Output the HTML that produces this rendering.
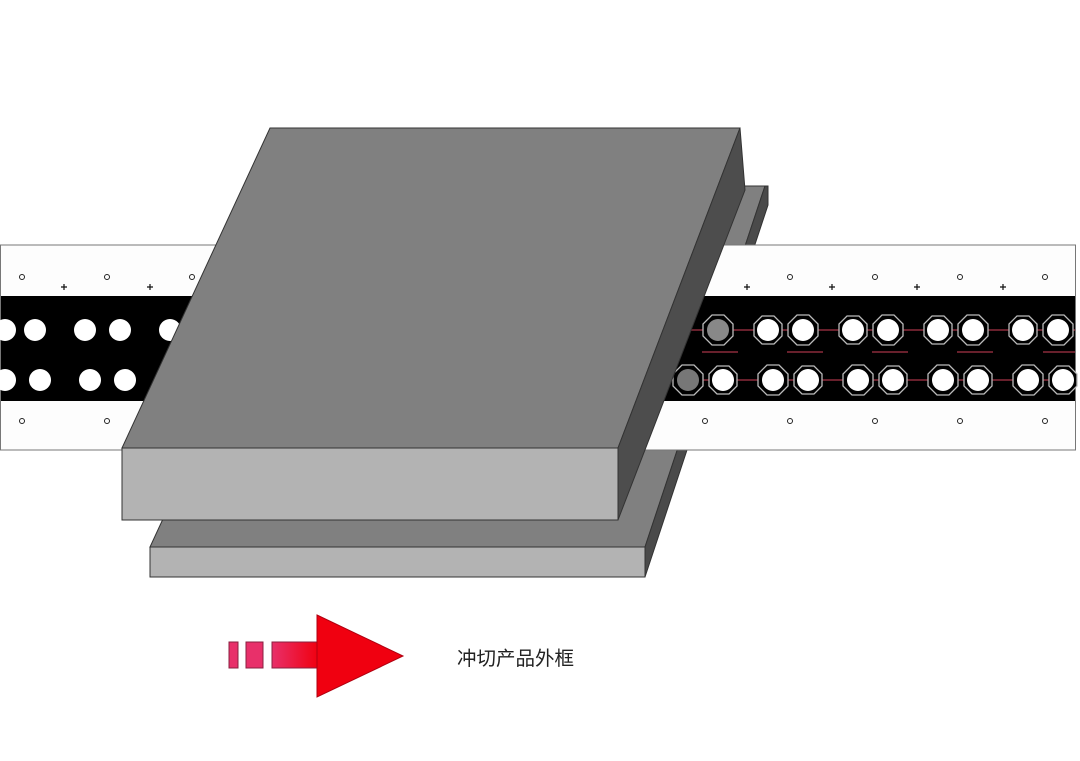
<!DOCTYPE html>
<html><head><meta charset="utf-8"><style>body{margin:0;background:#fff}svg{display:block}</style></head><body>
<svg width="1080" height="761" viewBox="0 0 1080 761" xmlns="http://www.w3.org/2000/svg">
<defs><linearGradient id="g" x1="0" x2="1"><stop offset="0" stop-color="#e8306a"/><stop offset="1" stop-color="#f00010"/></linearGradient></defs>
<g stroke="#333" stroke-width="1">
<polygon points="150,547 645,547 765,186 317,186" fill="#808080"/>
<polygon points="645,577 645,547 765,186 768,186 768,205" fill="#4a4a4a"/>
<rect x="150" y="547" width="495" height="30" fill="#b3b3b3"/>
</g>
<rect x="0.5" y="245" width="1075" height="205" fill="#fdfdfd" stroke="#777"/>
<rect x="1" y="296" width="1074" height="105" fill="#000"/>
<g fill="none" stroke="#222" stroke-width="1">
<circle cx="22" cy="277" r="2.5"/><circle cx="107" cy="277" r="2.5"/><circle cx="192" cy="277" r="2.5"/>
<circle cx="790" cy="277" r="2.5"/><circle cx="875" cy="277" r="2.5"/><circle cx="960" cy="277" r="2.5"/><circle cx="1045" cy="277" r="2.5"/>
<circle cx="22" cy="421" r="2.5"/><circle cx="107" cy="421" r="2.5"/><circle cx="705" cy="421" r="2.5"/><circle cx="790" cy="421" r="2.5"/><circle cx="875" cy="421" r="2.5"/><circle cx="960" cy="421" r="2.5"/><circle cx="1045" cy="421" r="2.5"/>
</g>
<g stroke="#111" stroke-width="1.2">
<path d="M61 287h6M64 284v6M147 287h6M150 284v6M744 287h6M747 284v6M829 287h6M832 284v6M914 287h6M917 284v6M1000 287h6M1003 284v6"/>
</g>
<g fill="#fff">
<circle cx="5" cy="330" r="11"/><circle cx="35" cy="330" r="11"/><circle cx="85" cy="330" r="11"/><circle cx="120" cy="330" r="11"/><circle cx="170" cy="330" r="11"/>
<circle cx="5" cy="380" r="11"/><circle cx="40" cy="380" r="11"/><circle cx="90" cy="380" r="11"/><circle cx="125" cy="380" r="11"/>
</g>
<g stroke="#8a2a3a" stroke-width="1.5">
<path d="M680 330H1075M670 380H1075"/>
<path d="M702 352h36M787 352h36M872 352h36M957 352h36M1043 352h32"/>
</g>
<g stroke="#bbb" stroke-width="1.3" fill="#000">
<polygon transform="translate(718,330)" points="-6,-15 6,-15 15,-6 15,6 6,15 -6,15 -15,6 -15,-6"/>
<polygon transform="translate(768,330)" points="-6,-14 6,-14 14,-6 14,6 6,14 -6,14 -14,6 -14,-6"/>
<polygon transform="translate(803,330)" points="-6,-15 6,-15 15,-6 15,6 6,15 -6,15 -15,6 -15,-6"/>
<polygon transform="translate(853,330)" points="-6,-14 6,-14 14,-6 14,6 6,14 -6,14 -14,6 -14,-6"/>
<polygon transform="translate(888,330)" points="-6,-15 6,-15 15,-6 15,6 6,15 -6,15 -15,6 -15,-6"/>
<polygon transform="translate(938,330)" points="-6,-14 6,-14 14,-6 14,6 6,14 -6,14 -14,6 -14,-6"/>
<polygon transform="translate(973,330)" points="-6,-15 6,-15 15,-6 15,6 6,15 -6,15 -15,6 -15,-6"/>
<polygon transform="translate(1023,330)" points="-6,-14 6,-14 14,-6 14,6 6,14 -6,14 -14,6 -14,-6"/>
<polygon transform="translate(1058,330)" points="-6,-15 6,-15 15,-6 15,6 6,15 -6,15 -15,6 -15,-6"/>
<polygon transform="translate(688,380)" points="-6,-15 6,-15 15,-6 15,6 6,15 -6,15 -15,6 -15,-6"/>
<polygon transform="translate(723,380)" points="-6,-14 6,-14 14,-6 14,6 6,14 -6,14 -14,6 -14,-6"/>
<polygon transform="translate(773,380)" points="-6,-15 6,-15 15,-6 15,6 6,15 -6,15 -15,6 -15,-6"/>
<polygon transform="translate(808,380)" points="-6,-14 6,-14 14,-6 14,6 6,14 -6,14 -14,6 -14,-6"/>
<polygon transform="translate(858,380)" points="-6,-15 6,-15 15,-6 15,6 6,15 -6,15 -15,6 -15,-6"/>
<polygon transform="translate(893,380)" points="-6,-14 6,-14 14,-6 14,6 6,14 -6,14 -14,6 -14,-6"/>
<polygon transform="translate(943,380)" points="-6,-15 6,-15 15,-6 15,6 6,15 -6,15 -15,6 -15,-6"/>
<polygon transform="translate(978,380)" points="-6,-14 6,-14 14,-6 14,6 6,14 -6,14 -14,6 -14,-6"/>
<polygon transform="translate(1028,380)" points="-6,-15 6,-15 15,-6 15,6 6,15 -6,15 -15,6 -15,-6"/>
<polygon transform="translate(1063,380)" points="-6,-14 6,-14 14,-6 14,6 6,14 -6,14 -14,6 -14,-6"/>
</g>
<g fill="#fff">
<circle cx="718" cy="330" r="11" fill="#888"/><circle cx="768" cy="330" r="11"/><circle cx="803" cy="330" r="11"/><circle cx="853" cy="330" r="11"/><circle cx="888" cy="330" r="11"/><circle cx="938" cy="330" r="11"/><circle cx="973" cy="330" r="11"/><circle cx="1023" cy="330" r="11"/><circle cx="1058" cy="330" r="11"/>
<circle cx="688" cy="380" r="11" fill="#777"/><circle cx="723" cy="380" r="11"/><circle cx="773" cy="380" r="11"/><circle cx="808" cy="380" r="11"/><circle cx="858" cy="380" r="11"/><circle cx="893" cy="380" r="11"/><circle cx="943" cy="380" r="11"/><circle cx="978" cy="380" r="11"/><circle cx="1028" cy="380" r="11"/><circle cx="1063" cy="380" r="11"/>
</g>
<g stroke="#333" stroke-width="1">
<polygon points="122,448 618,448 740,128 270,128" fill="#808080"/>
<polygon points="618,520 618,448 740,128 745,190" fill="#4d4d4d"/>
<rect x="122" y="448" width="496" height="72" fill="#b3b3b3"/>
</g>
<g stroke="#8a2040" stroke-width="1">
<rect x="229" y="642" width="9" height="26" fill="#e8306a"/>
<rect x="246" y="642" width="17" height="26" fill="#e8306a"/>
<rect x="272" y="642" width="46" height="26" fill="url(#g)"/>
</g>
<polygon points="317,615 403,656 317,697" fill="#f00010" stroke="#b00010"/>
<text x="457" y="665" font-family="Liberation Sans, Noto Sans CJK SC, sans-serif" font-size="19.5" fill="#222">冲切产品外框</text>
</svg>
</body></html>
